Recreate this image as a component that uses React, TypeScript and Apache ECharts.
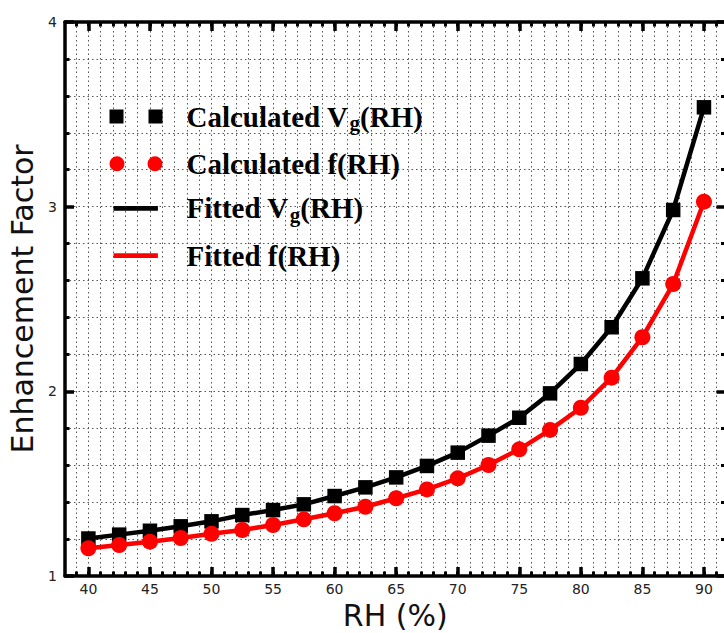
import React, { useEffect, useRef } from "react";
import * as echarts from "echarts";

const rh = [40, 42.5, 45, 47.5, 50, 52.5, 55, 57.5, 60, 62.5, 65, 67.5, 70, 72.5, 75, 77.5, 80, 82.5, 85, 87.5, 90];
const vgCalc = [1.203, 1.224, 1.245, 1.269, 1.296, 1.33, 1.357, 1.388, 1.433, 1.48, 1.534, 1.596, 1.668, 1.76, 1.857, 1.989, 2.148, 2.347, 2.612, 2.982, 3.538];
const fCalc = [1.15, 1.168, 1.186, 1.206, 1.229, 1.249, 1.276, 1.307, 1.34, 1.375, 1.421, 1.469, 1.529, 1.601, 1.686, 1.791, 1.911, 2.074, 2.293, 2.581, 3.027];
const xMajorTicks = [40, 45, 50, 55, 60, 65, 70, 75, 80, 85, 90];
const xMinorTicks = [39, 40, 41, 42, 43, 44, 45, 46, 47, 48, 49, 50, 51, 52, 53, 54, 55, 56, 57, 58, 59, 60, 61, 62, 63, 64, 65, 66, 67, 68, 69, 70, 71, 72, 73, 74, 75, 76, 77, 78, 79, 80, 81, 82, 83, 84, 85, 86, 87, 88, 89, 90, 91];
const names = ["Calculated Vg(RH)", "Calculated f(RH)", "Fitted Vg(RH)", "Fitted f(RH)"];
const legendRich: Record<string, string> = {
  "Calculated Vg(RH)": "{g0|}{b|Calculated V}{s|g}{b|(RH)}",
  "Calculated f(RH)": "{g0|}{b|Calculated f(RH)}",
  "Fitted Vg(RH)": "{g0|}{b|Fitted V}{s|g}{b|(RH)}",
  "Fitted f(RH)": "{g0|}{b|Fitted f(RH)}",
};

const XMIN = 38.1;
const XMAX = 91.75;

const dotted = { color: "#555", width: 1, type: [1.5, 3] as number[] };

const squaresIcon = "path://M0,0.5h14v14h-14z M39,0.5h14v14h-14z M0,0h0.01v0.01h-0.01z M52.99,14.99h0.01v0.01h-0.01z";
const circlesIcon =
  "path://M0,7.5a7.5,7.5 0 1,0 15,0a7.5,7.5 0 1,0 -15,0z M38,7.5a7.5,7.5 0 1,0 15,0a7.5,7.5 0 1,0 -15,0z";
const lineIcon = "path://M0,0h0.01v0.01h-0.01z M4,5.2h44.4v4.6h-44.4z M52.99,14.99h0.01v0.01h-0.01z";

export default function App() {
  const ref = useRef<HTMLDivElement>(null);
  useEffect(() => {
    if (!ref.current) return;
    const chart = echarts.init(ref.current, null, { renderer: "svg" });
    const axisFont = { fontFamily: "DejaVu Sans", fontSize: 14, color: "#222" };
    const xBase = {
      type: "value",
      min: XMIN,
      max: XMAX,
      gridIndex: 0,
    };
    const option: any = {
      animation: false,
      backgroundColor: "#fff",
      grid: { left: 65, top: 22, width: 660.5, height: 554, containLabel: false, outerBoundsMode: "none" },
      xAxis: [
        {
          ...xBase,
          position: "bottom",
          name: "RH (%)",
          nameLocation: "middle",
          nameGap: 24,
          nameTextStyle: { fontFamily: "DejaVu Sans", fontSize: 30, lineHeight: 30, color: "#111" },
          axisLine: { show: true, onZero: false, lineStyle: { color: "#000", width: 3.5 } },
          axisTick: { show: true, inside: true, length: 9, customValues: xMajorTicks, lineStyle: { color: "#000", width: 3.5 } },
          axisLabel: { show: true, margin: 6, customValues: xMajorTicks, ...axisFont },
          splitLine: { show: false },
        },
        {
          ...xBase,
          position: "bottom",
          axisLine: { show: false, onZero: false },
          axisTick: { show: true, inside: true, length: 4.5, customValues: xMinorTicks, lineStyle: { color: "#000", width: 3 } },
          axisLabel: { show: false },
          splitLine: { show: true, lineStyle: dotted },
        },
        {
          ...xBase,
          position: "top",
          axisLine: { show: true, onZero: false, lineStyle: { color: "#000", width: 3.5 } },
          axisTick: { show: true, inside: true, length: 9, customValues: xMajorTicks, lineStyle: { color: "#000", width: 3.5 } },
          axisLabel: { show: false },
          splitLine: { show: false },
        },
        {
          ...xBase,
          position: "top",
          axisLine: { show: false, onZero: false },
          axisTick: { show: true, inside: true, length: 4.5, customValues: xMinorTicks, lineStyle: { color: "#000", width: 3 } },
          axisLabel: { show: false },
          splitLine: { show: false },
        },
      ],
      yAxis: [
        {
          type: "value",
          position: "left",
          min: 1,
          max: 4,
          interval: 1,
          name: "Enhancement Factor",
          nameLocation: "middle",
          nameGap: 25,
          nameTextStyle: { fontFamily: "DejaVu Sans", fontSize: 30, color: "#111" },
          axisLine: { show: true, onZero: false, lineStyle: { color: "#000", width: 3.5 } },
          axisTick: { show: true, inside: true, length: 9, lineStyle: { color: "#000", width: 3.5 } },
          minorTick: { show: true, splitNumber: 5, length: 4.5, lineStyle: { color: "#000", width: 3 } },
          axisLabel: { show: true, margin: 8, ...axisFont },
          splitLine: { show: true, lineStyle: dotted },
          minorSplitLine: { show: true, lineStyle: dotted },
        },
        {
          type: "value",
          position: "right",
          min: 1,
          max: 4,
          interval: 1,
          axisLine: { show: true, onZero: false, lineStyle: { color: "#000", width: 3.5 } },
          axisTick: { show: true, inside: true, length: 9, lineStyle: { color: "#000", width: 3.5 } },
          minorTick: { show: true, splitNumber: 5, length: 4.5, lineStyle: { color: "#000", width: 3 } },
          axisLabel: { show: false },
          splitLine: { show: false },
          minorSplitLine: { show: false },
        },
      ],
      legend: {
        orient: "vertical",
        left: 109.5,
        top: 102,
        itemWidth: 53,
        itemHeight: 15,
        itemGap: 15.7,
        padding: 0,
        data: [
          { name: names[0], icon: squaresIcon },
          { name: names[1], icon: circlesIcon },
          { name: names[2], icon: lineIcon },
          { name: names[3], icon: lineIcon },
        ],
        formatter: (n: string) => legendRich[n],
        textStyle: {
          color: "#000",
          rich: {
            g0: { width: 19, lineHeight: 34, fontSize: 10 },
            b: { fontFamily: "Liberation Serif", fontWeight: "bold", fontSize: 29, lineHeight: 34, verticalAlign: "middle", color: "#000" },
            s: { fontFamily: "Liberation Serif", fontWeight: "bold", fontSize: 21, lineHeight: 20, verticalAlign: "bottom", color: "#000", padding: [0, 0, 0, 1] },
          },
        },
      },
      series: [
        {
          name: names[2],
          type: "line",
          xAxisIndex: 0,
          yAxisIndex: 0,
          data: rh.map((x, i) => [x, vgCalc[i]]),
          smooth: false,
          showSymbol: false,
          symbol: "none",
          lineStyle: { color: "#000", width: 4.5 },
          itemStyle: { color: "#000" },
          z: 2,
        },
        {
          name: names[3],
          type: "line",
          xAxisIndex: 0,
          yAxisIndex: 0,
          data: rh.map((x, i) => [x, fCalc[i]]),
          smooth: false,
          showSymbol: false,
          symbol: "none",
          lineStyle: { color: "#ff0000", width: 4.5 },
          itemStyle: { color: "#ff0000" },
          z: 2,
        },
        {
          name: names[0],
          type: "scatter",
          xAxisIndex: 0,
          yAxisIndex: 0,
          data: rh.map((x, i) => [x, vgCalc[i]]),
          symbol: "rect",
          symbolSize: 14.5,
          itemStyle: { color: "#000", opacity: 1 },
          z: 3,
        },
        {
          name: names[1],
          type: "scatter",
          xAxisIndex: 0,
          yAxisIndex: 0,
          data: rh.map((x, i) => [x, fCalc[i]]),
          symbol: "circle",
          symbolSize: 16,
          itemStyle: { color: "#ff0000", opacity: 1 },
          z: 4,
        },
      ],
    };
    chart.setOption(option);
    return () => chart.dispose();
  }, []);
  return (
    <div style={{ position: "fixed", left: 0, top: 0, width: 724, height: 633, overflow: "hidden", background: "#fff" }}>
      <div ref={ref} style={{ width: 728, height: 633 }} />
    </div>
  );
}
